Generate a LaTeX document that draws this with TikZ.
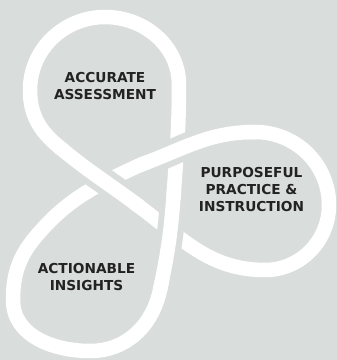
\documentclass[tikz,border=0pt]{standalone}
\usepackage{fontspec}
\setmainfont{DejaVu Sans}
\definecolor{bg}{HTML}{D9DDDC}
\definecolor{ink}{HTML}{222222}
\begin{document}
\begin{tikzpicture}[x=1pt,y=1pt,
  band/.style={line width=14.5pt, white, line cap=butt, line join=round},
  gapband/.style={line width=26.5pt, bg, line cap=butt, shorten <=9pt, shorten >=9pt},
  lbl/.style={font=\bfseries\fontsize{13.7}{17}\selectfont, text=ink, align=center, inner sep=0pt}]
\fill[bg] (0,0) rectangle (337,360);
\useasboundingbox (0,0) rectangle (337,360);
% centreline waypoints
\coordinate (T0) at (105,343);
\coordinate (T1) at (30,270);
\coordinate (D1) at (58,214);
\coordinate (D2) at (140,153);
\coordinate (R1) at (265,90);
\coordinate (R2) at (329,155);
\coordinate (R3) at (255,228);
\coordinate (M)  at (140,195);
\coordinate (L1) at (38,126);
\coordinate (L2) at (13,60);
\coordinate (L3) at (90,9);
\coordinate (L4) at (160,70);
\coordinate (N)  at (174,170);
\coordinate (T2) at (179,275);
% whole band
\draw[band] (T0) to[out=180,in=90] (T1) to[out=270,in=140] (D1)
  to[out=320,in=143] (D2) to[out=323,in=180] (R1)
  to[out=0,in=270] (R2) to[out=90,in=0] (R3)
  to[out=180,in=20] (M) to[out=205,in=49] (L1)
  to[out=229,in=90] (L2) to[out=270,in=180] (L3)
  to[out=0,in=258] (L4) to[out=78,in=266] (N)
  to[out=86,in=270] (T2) to[out=90,in=0] (T0);
% over-crossings
\draw[gapband] (D1) to[out=320,in=143] (D2);
\draw[band] (D1) to[out=320,in=143] (D2);
\draw[gapband] (R3) to[out=180,in=20] (M);
\draw[band] (R3) to[out=180,in=20] (M);
\draw[gapband] (L4) to[out=78,in=266] (N);
\draw[band] (L4) to[out=78,in=266] (N);
% labels
\node[lbl] (acc) at (105,274) {ACCURATE\\ASSESSMENT};
\node[lbl] (ppi) at (251.5,170) {PURPOSEFUL\\PRACTICE \&\\INSTRUCTION};
\node[lbl] (act) at (86.5,83) {ACTIONABLE\\INSIGHTS};
\end{tikzpicture}
\end{document}
